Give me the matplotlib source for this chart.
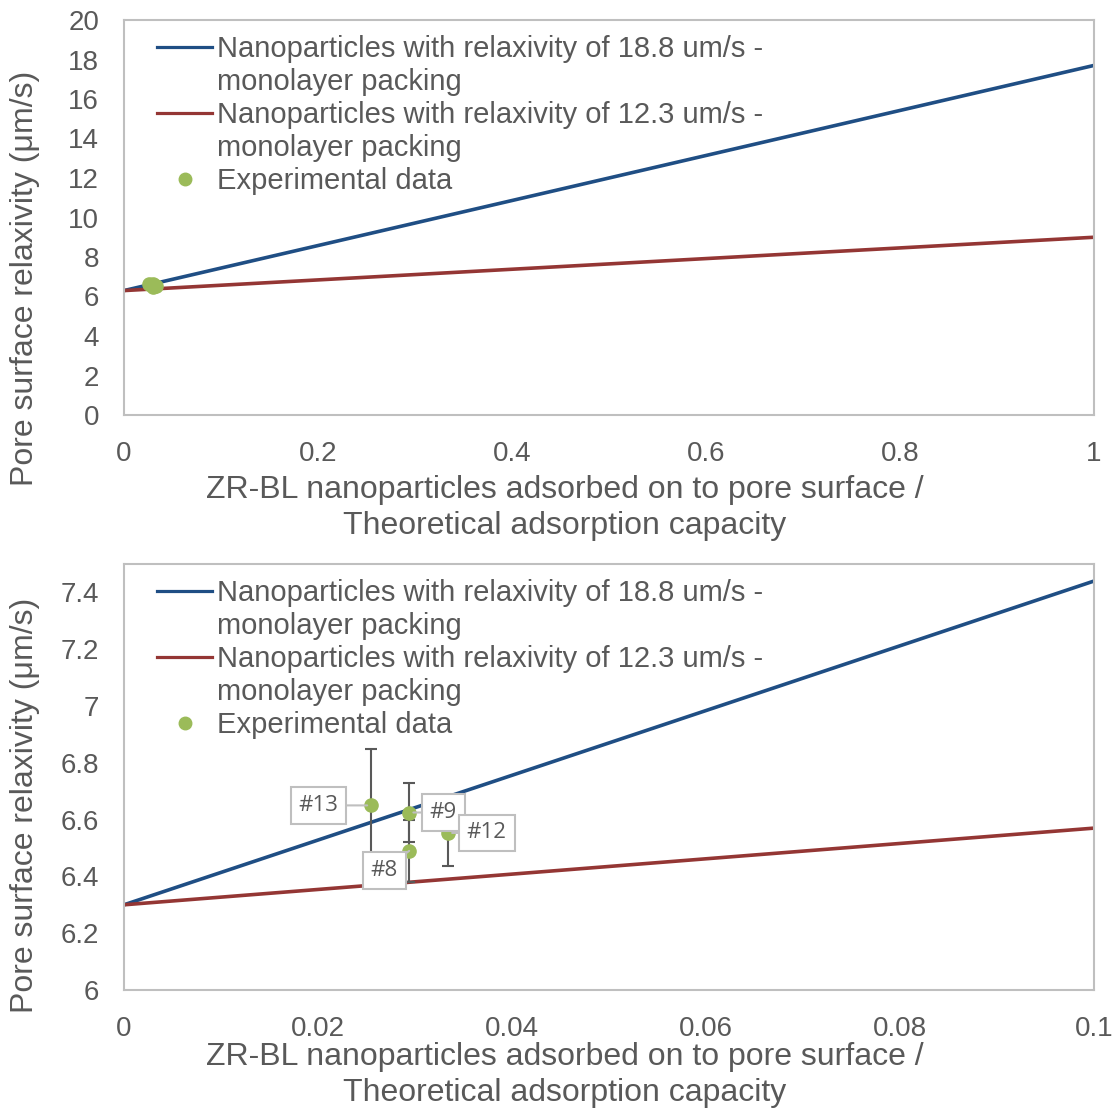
import matplotlib
matplotlib.use("Agg")
import matplotlib.pyplot as plt
from matplotlib.lines import Line2D

plt.rcParams['font.family'] = ['Liberation Sans', 'DejaVu Sans']

# model lines: relaxivity vs fraction of adsorption capacity
x_top = [0, 1]
blue_top = [6.3, 17.7]
red_top = [6.3, 9.0]
x_bot = [0, 0.1]
blue_bot = [6.3, 7.44]
red_bot = [6.3, 6.57]

# experimental samples
labels = ["#13", "#9", "#8", "#12"]
exp_x = [0.0255, 0.0294, 0.0294, 0.0334]
exp_y = [6.65, 6.625, 6.49, 6.553]
exp_err = [0.20, 0.105, 0.108, 0.118]

blue = "#1f4e84"
red = "#943634"
green = "#9bbb59"
grey = "#595959"
leg_labels = ["Nanoparticles with relaxivity of 18.8 um/s -", "monolayer packing",
              "Nanoparticles with relaxivity of 12.3 um/s -", "monolayer packing",
              "Experimental data"]
xlab = "ZR-BL nanoparticles adsorbed on to pore surface /\nTheoretical adsorption capacity"
ylab = "Pore surface relaxivity (\u03bcm/s)"

W, H = 1116, 1111
fig = plt.figure(figsize=(W / 100, H / 100), dpi=100)
ax1 = fig.add_axes([124 / W, 1 - 415 / H, 970 / W, 395 / H])
ax2 = fig.add_axes([124 / W, 1 - 990 / H, 970 / W, 426 / H])


def style(ax, xlab_y, ylab_y):
    for s in ax.spines.values():
        s.set_color("#bfbfbf")
        s.set_linewidth(1.5)
    ax.tick_params(length=0, labelsize=20, labelcolor=grey)
    ax.tick_params(axis='x', pad=19)
    ax.tick_params(axis='y', pad=18)
    fig.text(565 / W, 1 - xlab_y / H, xlab, ha="center", va="center", fontsize=23,
             color=grey, linespacing=1.24)
    fig.text(25 / W, 1 - ylab_y / H, ylab, ha="center", va="center", fontsize=23,
             color=grey, rotation=90)


def legend(ax):
    handles = [Line2D([], [], color=blue, lw=2.3), Line2D([], [], alpha=0),
               Line2D([], [], color=red, lw=2.3), Line2D([], [], alpha=0),
               Line2D([], [], ls="none", marker="o", color=green, ms=9)]
    leg = ax.legend(handles, leg_labels, loc="upper left", fontsize=21, frameon=False,
                    handlelength=1.9, handletextpad=0.15, labelspacing=0.17,
                    borderpad=0, borderaxespad=0,
                    bbox_to_anchor=(33 / 970, 1 - 15 / ax.bbox.height))
    for t in leg.get_texts():
        t.set_color(grey)


ax1.plot(x_top, blue_top, color=blue, lw=2.6)
ax1.plot(x_top, red_top, color=red, lw=2.6)
ax1.plot(exp_x, exp_y, 'o', color=green, ms=9.5)
ax1.set_xlim(0, 1)
ax1.set_ylim(0, 20)
ax1.set_xticks([0, 0.2, 0.4, 0.6, 0.8, 1])
ax1.set_xticklabels(["0", "0.2", "0.4", "0.6", "0.8", "1"])
ax1.set_yticks(range(0, 21, 2))
style(ax1, 508, 278)
legend(ax1)

ax2.plot(x_bot, blue_bot, color=blue, lw=2.6)
ax2.plot(x_bot, red_bot, color=red, lw=2.6)
ax2.errorbar(exp_x, exp_y, yerr=exp_err, fmt='none', ecolor=grey, elinewidth=1.5,
             capsize=4.3, capthick=1.5)
ax2.plot(exp_x, exp_y, 'o', color=green, ms=9.5)
ax2.set_xlim(0, 0.1)
ax2.set_ylim(6, 7.5)
ax2.set_xticks([0, 0.02, 0.04, 0.06, 0.08, 0.1])
ax2.set_xticklabels(["0", "0.02", "0.04", "0.06", "0.08", "0.1"])
ax2.set_yticks([6, 6.2, 6.4, 6.6, 6.8, 7, 7.2, 7.4])
ax2.set_yticklabels(["6", "6.2", "6.4", "6.6", "6.8", "7", "7.2", "7.4"])
style(ax2, 1075, 805)
legend(ax2)

# data labels for the samples
offsets = {"#13": (-38, 0), "#9": (24.5, 0), "#8": (-18, -14), "#12": (28, 0)}
for lab, x, y in zip(labels, exp_x, exp_y):
    ax2.annotate(lab, (x, y), xytext=offsets[lab], textcoords="offset points",
                 ha="center", va="center", fontsize=16, color=grey,
                 family=["Open Sans", "DejaVu Sans"],
                 bbox=dict(boxstyle="square,pad=0.35", fc="white", ec="#bfbfbf", lw=1.5),
                 arrowprops=dict(arrowstyle="-", color="#bfbfbf", lw=1.5,
                                 shrinkA=0, shrinkB=3))

fig.savefig("out.png", dpi=100)
